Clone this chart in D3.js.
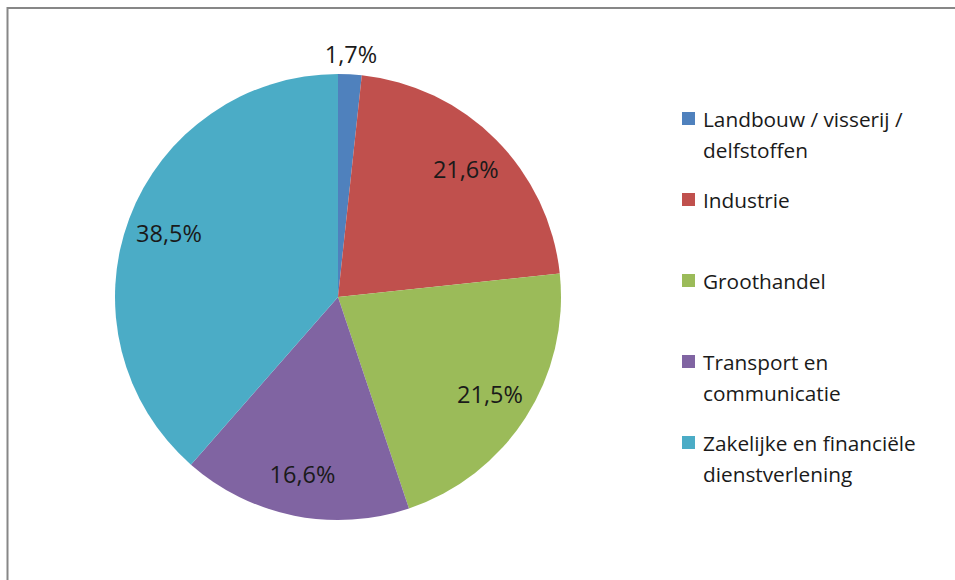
<!DOCTYPE html>
<html>
<head>
<meta charset="utf-8">
<script src="https://cdn.jsdelivr.net/npm/d3@7"></script>
<style>
  body { margin: 0; background: #fff; }
  svg { display: block; font-family: "Open Sans", "Noto Sans", sans-serif; font-variant-ligatures: none; }
</style>
</head>
<body>
<div id="chart"></div>
<script>
// sectors and their shares (%)
const categories = [
    "Landbouw / visserij / delfstoffen",
    "Industrie",
    "Groothandel",
    "Transport en communicatie",
    "Zakelijke en financiële dienstverlening"
];
const shares = [1.7, 21.6, 21.5, 16.6, 38.5];
const shareLabels = ["1,7%", "21,6%", "21,5%", "16,6%", "38,5%"];
const legendLines = [
    ["Landbouw / visserij /", "delfstoffen"],
    ["Industrie"],
    ["Groothandel"],
    ["Transport en", "communicatie"],
    ["Zakelijke en financiële", "dienstverlening"]
];
const colors = ["#4f81bd", "#c0504d", "#9bbb59", "#8064a2", "#4bacc6"];

function drawPie() {
    const width = 955, height = 580;
    const cx = 338, cy = 297, radius = 223;

    const svg = d3.select("#chart")
        .append("svg")
        .attr("width", width)
        .attr("height", height);

    // chart frame (only top and left edges visible)
    svg.append("rect")
        .attr("x", 7.5)
        .attr("y", 8)
        .attr("width", width + 20)
        .attr("height", height + 20)
        .attr("fill", "none")
        .attr("stroke", "#878787")
        .attr("stroke-width", 2);

    const color = d3.scaleOrdinal()
        .domain(categories)
        .range(colors);

    const pie = d3.pie().sort(null).value((d, i) => shares[i]);
    const arcs = pie(categories);

    const arc = d3.arc().innerRadius(0).outerRadius(radius);
    const inLabel = d3.arc().innerRadius(radius * 0.81).outerRadius(radius * 0.81);
    const outLabel = d3.arc().innerRadius(radius + 20).outerRadius(radius + 20);

    const g = svg.append("g").attr("transform", `translate(${cx},${cy})`);

    g.selectAll("path")
        .data(arcs)
        .join("path")
        .attr("d", arc)
        .attr("fill", d => color(d.data));

    g.selectAll("text")
        .data(arcs)
        .join("text")
        .attr("transform", d => {
            const p = (shares[d.index] < 5 ? outLabel : inLabel).centroid(d);
            return `translate(${p[0]},${p[1]})`;
        })
        .attr("text-anchor", "middle")
        .attr("dy", "0.36em")
        .attr("font-size", 23.5)
        .attr("fill", "#1a1a1a")
        .text(d => shareLabels[d.index]);

    // legend
    const legendY = d3.scaleLinear().domain([0, 4]).range([112, 436]);
    const legend = svg.append("g")
        .selectAll("g")
        .data(categories)
        .join("g")
        .attr("transform", (d, i) => `translate(682,${legendY(i)})`);

    legend.append("rect")
        .attr("width", 13)
        .attr("height", 13)
        .attr("fill", d => color(d));

    legend.append("text")
        .attr("x", 21)
        .attr("font-size", 20.8)
        .attr("fill", "#1a1a1a")
        .selectAll("tspan")
        .data((d, i) => legendLines[i])
        .join("tspan")
        .attr("x", 21)
        .attr("y", (d, j) => 14.5 + j * 31)
        .text(d => d);
}
drawPie();
</script>
</body>
</html>
